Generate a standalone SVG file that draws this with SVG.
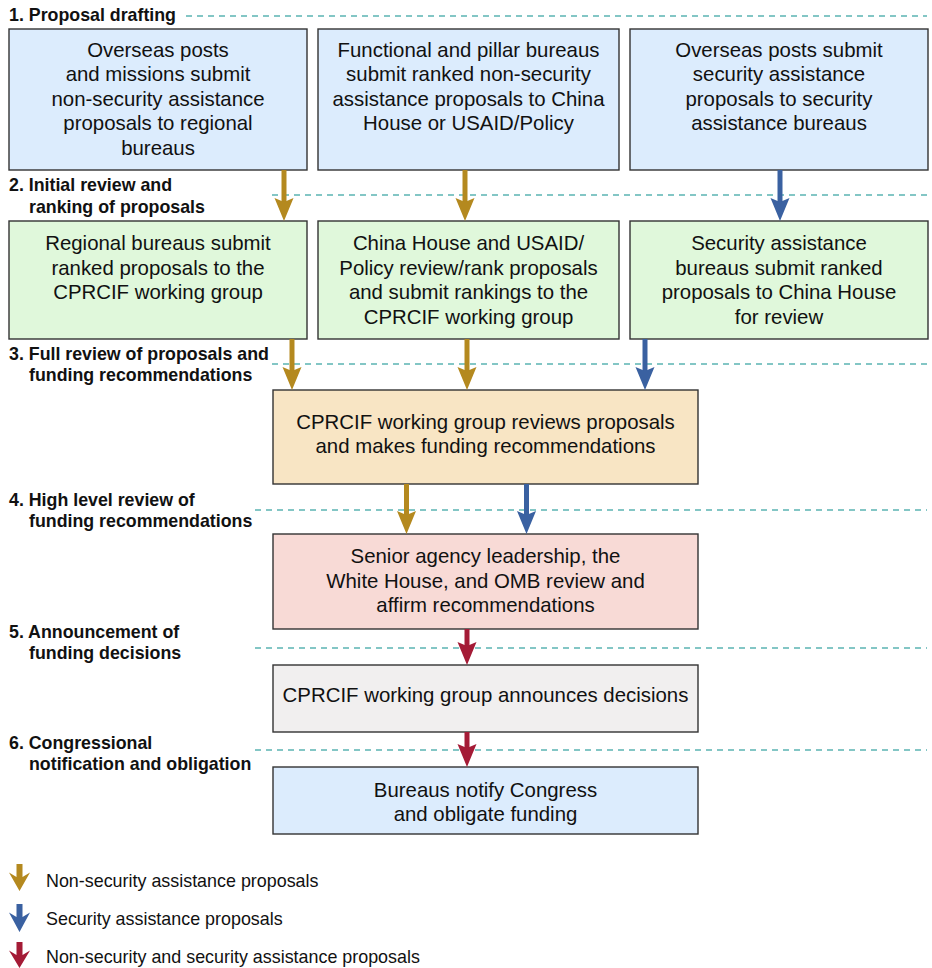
<svg xmlns="http://www.w3.org/2000/svg" width="932" height="968" viewBox="0 0 932 968">
<style>
text{font-family:"Liberation Sans",Arial,sans-serif;fill:#111}
.bt{font-size:20.4px;text-anchor:middle}
.st{font-size:17.8px;font-weight:bold}
.lg{font-size:17.9px}
.box{stroke:#333;stroke-width:1.4}
.blue{fill:#DCECFD}
.green{fill:#E0F8DB}
.orange{fill:#F8E5C4}
.pink{fill:#F8DAD6}
.grey{fill:#F1EFEF}
.dash{stroke:#5BB4B2;stroke-width:1.3;stroke-dasharray:6 5;fill:none}
.ag{stroke:#B4891F;stroke-width:5;marker-end:url(#mg)}
.ab{stroke:#3A61A1;stroke-width:5;marker-end:url(#mb)}
.ar{stroke:#A41B36;stroke-width:5;marker-end:url(#mr)}
</style>
<defs>
<marker id="mg" markerUnits="userSpaceOnUse" viewBox="0 -10 24 20" markerWidth="24" markerHeight="20" refX="8" refY="0" orient="auto" overflow="visible"><path d="M0,-9.5 L23,0 L0,9.5 L4,0 Z" fill="#B4891F"/></marker>
<marker id="mb" markerUnits="userSpaceOnUse" viewBox="0 -10 24 20" markerWidth="24" markerHeight="20" refX="8" refY="0" orient="auto" overflow="visible"><path d="M0,-9.5 L23,0 L0,9.5 L4,0 Z" fill="#3A61A1"/></marker>
<marker id="mr" markerUnits="userSpaceOnUse" viewBox="0 -10 24 20" markerWidth="24" markerHeight="20" refX="8" refY="0" orient="auto" overflow="visible"><path d="M0,-9.5 L23,0 L0,9.5 L4,0 Z" fill="#A41B36"/></marker>
</defs>

<g id="stages">
<line class="dash" x1="186" y1="16" x2="927" y2="16"/>
<line class="dash" x1="272" y1="195" x2="927" y2="195"/>
<line class="dash" x1="272" y1="364" x2="927" y2="364"/>
<line class="dash" x1="255" y1="510" x2="927" y2="510"/>
<line class="dash" x1="255" y1="648" x2="927" y2="648"/>
<line class="dash" x1="255" y1="750" x2="927" y2="750"/>
<text class="st" x="9" y="21">1. Proposal drafting</text>
<text class="st" x="9" y="191">2. Initial review and</text>
<text class="st" x="29" y="213">ranking of proposals</text>
<text class="st" x="9" y="360">3. Full review of proposals and</text>
<text class="st" x="29" y="381">funding recommendations</text>
<text class="st" x="9" y="506">4. High level review of</text>
<text class="st" x="29" y="527">funding recommendations</text>
<text class="st" x="9" y="638">5. Announcement of</text>
<text class="st" x="29" y="659">funding decisions</text>
<text class="st" x="9" y="749">6. Congressional</text>
<text class="st" x="29" y="770">notification and obligation</text>
</g>

<g id="n1">
<rect class="box blue" x="9" y="29" width="298" height="141"/>
<text class="bt" x="158" y="57">Overseas posts</text>
<text class="bt" x="158" y="81">and missions submit</text>
<text class="bt" x="158" y="106">non-security assistance</text>
<text class="bt" x="158" y="130">proposals to regional</text>
<text class="bt" x="158" y="155">bureaus</text>
</g>
<g id="n2">
<rect class="box blue" x="318" y="29" width="301" height="141"/>
<text class="bt" x="468.5" y="57">Functional and pillar bureaus</text>
<text class="bt" x="468.5" y="81">submit ranked non-security</text>
<text class="bt" x="468.5" y="106">assistance proposals to China</text>
<text class="bt" x="468.5" y="130">House or USAID/Policy</text>
</g>
<g id="n3">
<rect class="box blue" x="630" y="29" width="298" height="141"/>
<text class="bt" x="779" y="57">Overseas posts submit</text>
<text class="bt" x="779" y="81">security assistance</text>
<text class="bt" x="779" y="106">proposals to security</text>
<text class="bt" x="779" y="130">assistance bureaus</text>
</g>
<g id="n4">
<rect class="box green" x="9" y="221" width="298" height="118"/>
<text class="bt" x="158" y="250">Regional bureaus submit</text>
<text class="bt" x="158" y="275">ranked proposals to the</text>
<text class="bt" x="158" y="299">CPRCIF working group</text>
</g>
<g id="n5">
<rect class="box green" x="318" y="221" width="301" height="118"/>
<text class="bt" x="468.5" y="250">China House and USAID/</text>
<text class="bt" x="468.5" y="275">Policy review/rank proposals</text>
<text class="bt" x="468.5" y="299">and submit rankings to the</text>
<text class="bt" x="468.5" y="324">CPRCIF working group</text>
</g>
<g id="n6">
<rect class="box green" x="630" y="221" width="298" height="118"/>
<text class="bt" x="779" y="250">Security assistance</text>
<text class="bt" x="779" y="275">bureaus submit ranked</text>
<text class="bt" x="779" y="299">proposals to China House</text>
<text class="bt" x="779" y="324">for review</text>
</g>
<g id="n7">
<rect class="box orange" x="273" y="390" width="425" height="94"/>
<text class="bt" x="485.5" y="429">CPRCIF working group reviews proposals</text>
<text class="bt" x="485.5" y="453">and makes funding recommendations</text>
</g>
<g id="n8">
<rect class="box pink" x="273" y="534" width="425" height="95"/>
<text class="bt" x="485.5" y="563">Senior agency leadership, the</text>
<text class="bt" x="485.5" y="588">White House, and OMB review and</text>
<text class="bt" x="485.5" y="612">affirm recommendations</text>
</g>
<g id="n9">
<rect class="box grey" x="273" y="665" width="425" height="67"/>
<text class="bt" x="485.5" y="702">CPRCIF working group announces decisions</text>
</g>
<g id="n10">
<rect class="box blue" x="273" y="767" width="425" height="67"/>
<text class="bt" x="485.5" y="797">Bureaus notify Congress</text>
<text class="bt" x="485.5" y="821">and obligate funding</text>
</g>

<g id="connectors">
<line class="ag" x1="284" y1="170" x2="284" y2="206"/>
<line class="ag" x1="465" y1="170" x2="465" y2="206"/>
<line class="ab" x1="780" y1="170" x2="780" y2="206"/>
<line class="ag" x1="292" y1="339" x2="292" y2="375"/>
<line class="ag" x1="467" y1="339" x2="467" y2="375"/>
<line class="ab" x1="645" y1="339" x2="645" y2="375"/>
<line class="ag" x1="406.5" y1="484" x2="406.5" y2="519"/>
<line class="ab" x1="526.5" y1="484" x2="526.5" y2="519"/>
<line class="ar" x1="467" y1="629" x2="467" y2="650"/>
<line class="ar" x1="467" y1="732" x2="467" y2="752"/>
</g>

<g id="legend">
<path d="M16.5,864 H22.5 V877 L30,872.5 L19.5,891 L9,872.5 L16.5,877 Z" fill="#B4891F"/>
<text class="lg" x="46" y="887">Non-security assistance proposals</text>
<path d="M16.5,904 H22.5 V917 L30,912.5 L19.5,932 L9,912.5 L16.5,917 Z" fill="#3A61A1"/>
<text class="lg" x="46" y="925">Security assistance proposals</text>
<path d="M16.5,942 H22.5 V955 L30,950.5 L19.5,968 L9,950.5 L16.5,955 Z" fill="#A41B36"/>
<text class="lg" x="46" y="963">Non-security and security assistance proposals</text>
</g>
</svg>
